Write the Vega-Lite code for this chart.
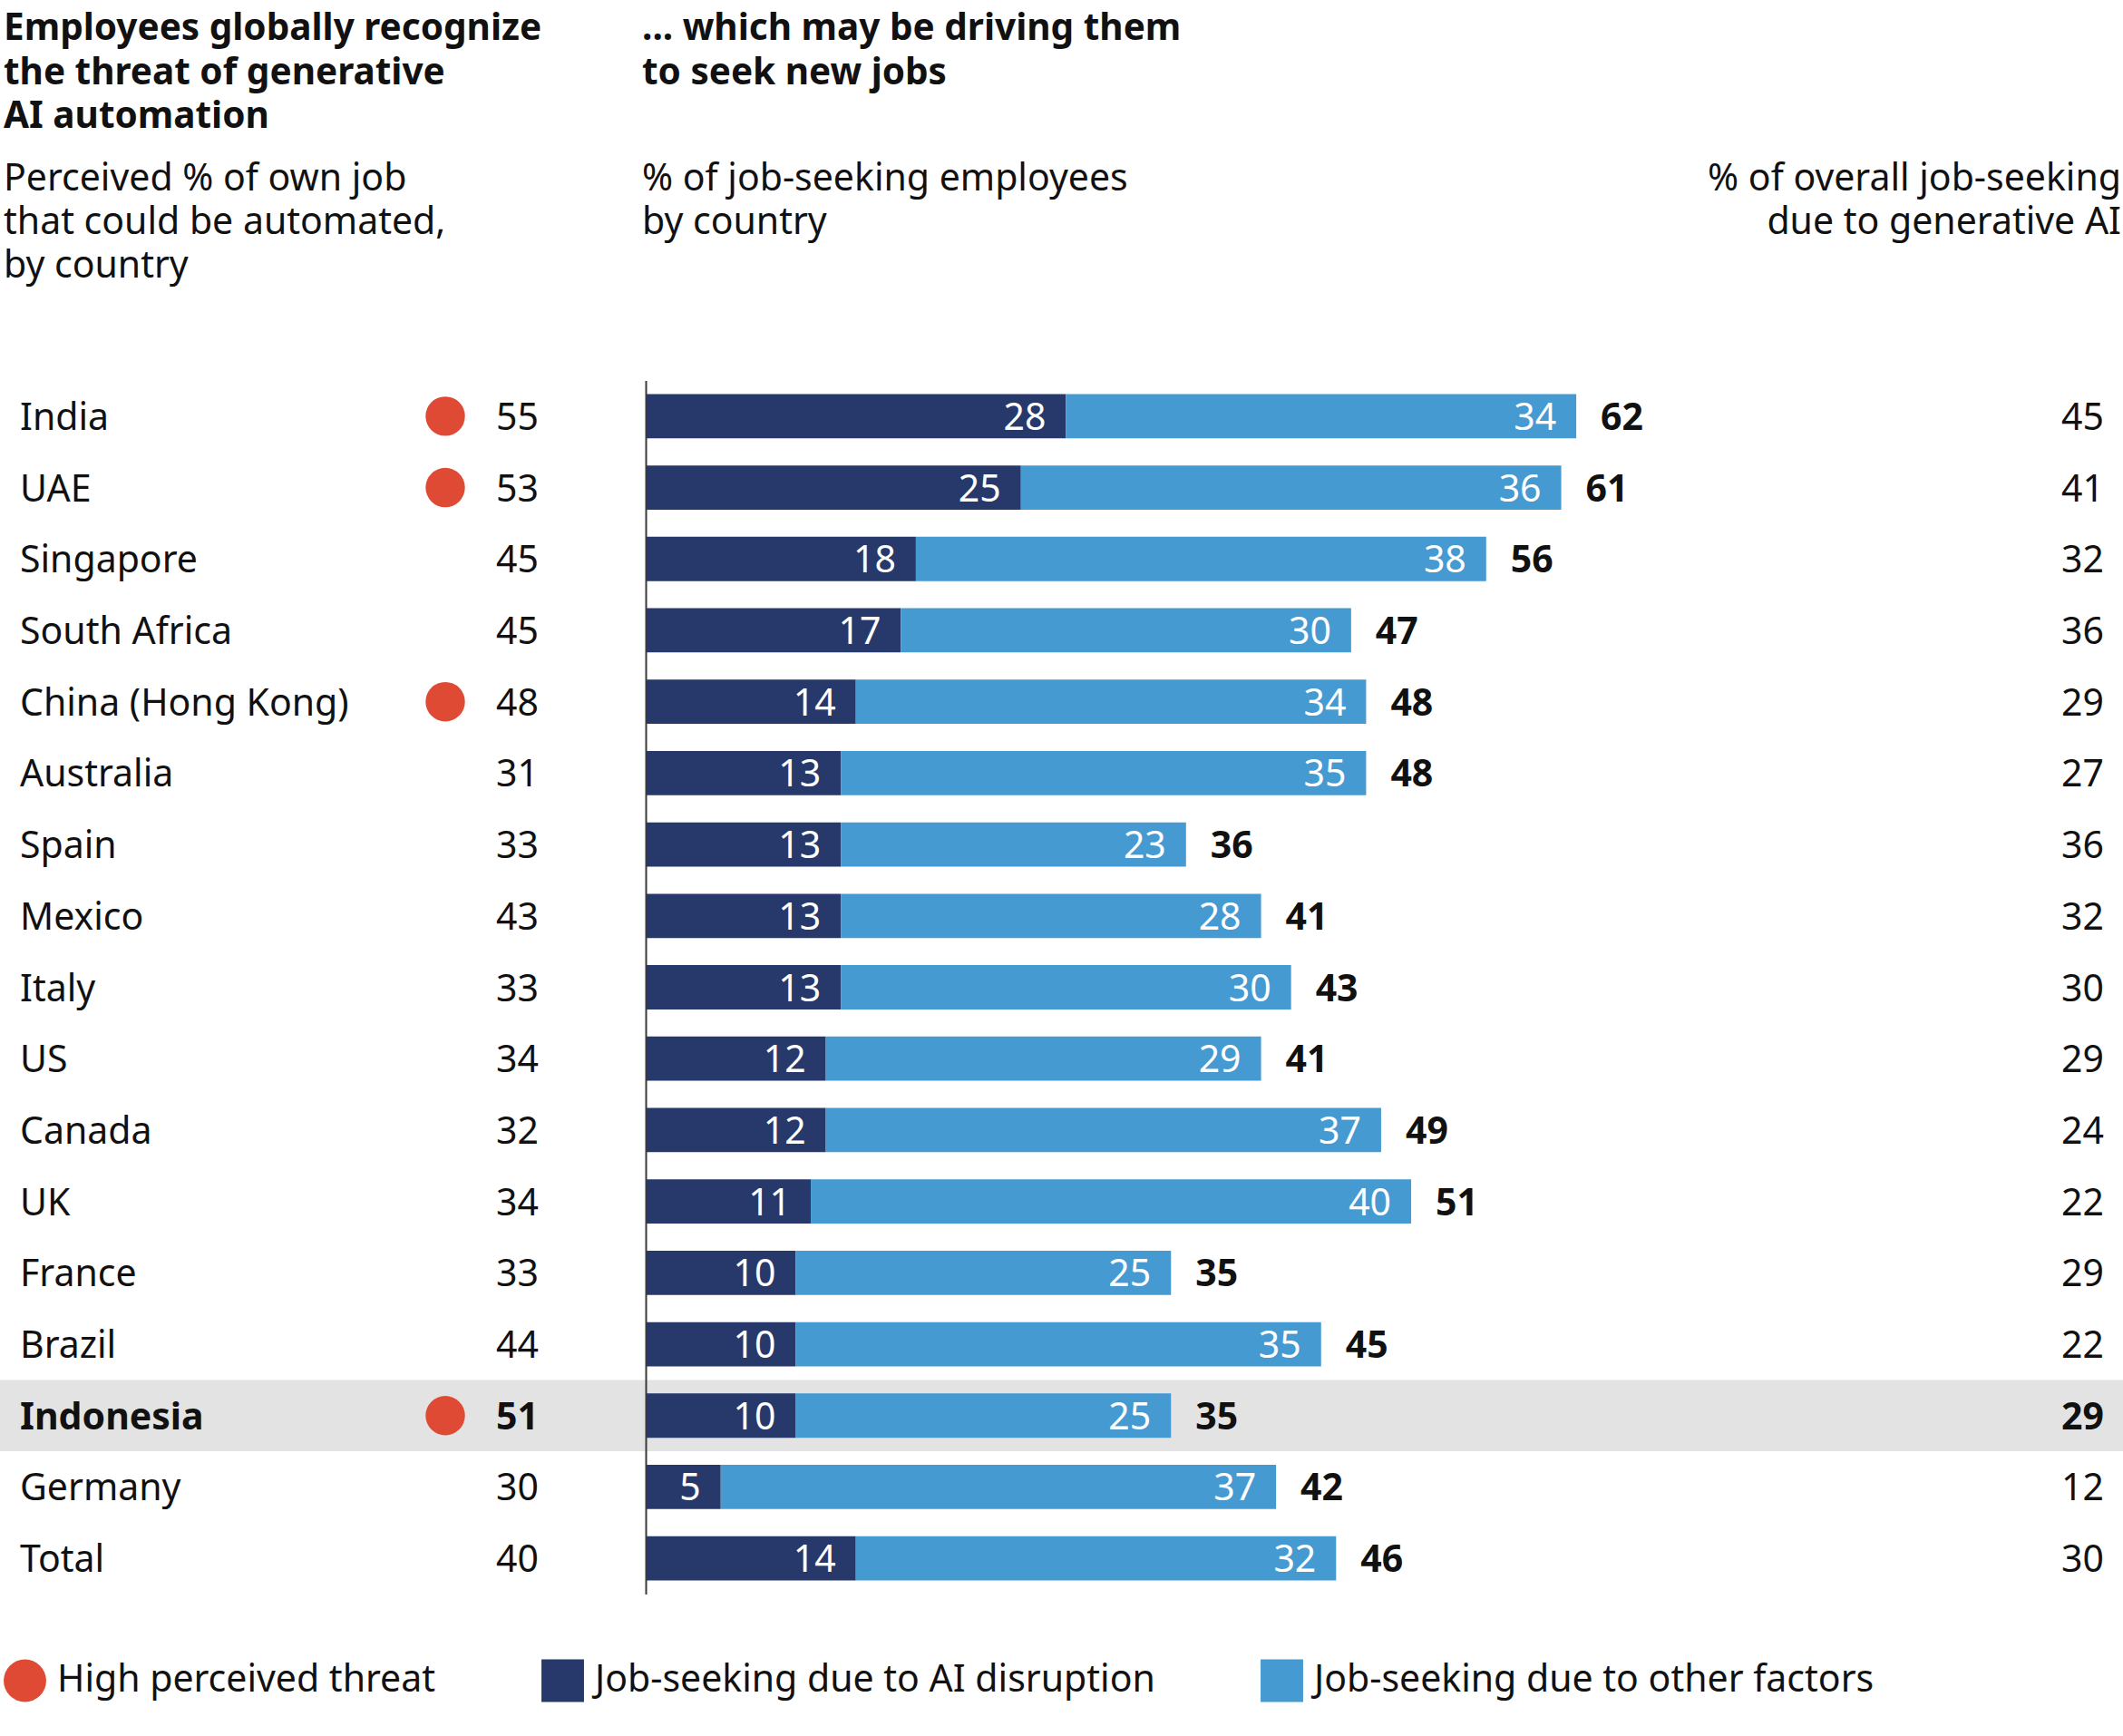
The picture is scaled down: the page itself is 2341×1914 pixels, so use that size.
{
  "$schema": "https://vega.github.io/schema/vega-lite/v6.json",
  "padding": {"left": 0, "top": 11.5, "right": 0, "bottom": 0},
  "background": "white",
  "bounds": "flush",
  "spacing": 0,
  "resolve": {"scale": {"color": "shared"}, "legend": {"color": "shared"}},
  "config": {
    "view": {"stroke": null},
    "font": "Noto Sans",
    "text": {"font": "Noto Sans", "fontSize": 41, "color": "#111111", "baseline": "middle", "dy": 3},
    "title": {
      "font": "Noto Sans", "fontSize": 40.5, "fontWeight": "bold", "color": "#111111", "lineHeight": 48.5,
      "subtitleFont": "Noto Sans", "subtitleFontSize": 41, "subtitleFontWeight": "normal", "subtitleColor": "#111111",
      "subtitleLineHeight": 48, "subtitlePadding": 28.5, "offset": 105.5, "anchor": "start", "frame": "group"
    }
  },
  "datasets": {
    "rows": [
      {"country": "India", "threat": 55, "high": true, "ai": 28, "other": 34, "total": 62, "overall": 45},
      {"country": "UAE", "threat": 53, "high": true, "ai": 25, "other": 36, "total": 61, "overall": 41},
      {"country": "Singapore", "threat": 45, "high": false, "ai": 18, "other": 38, "total": 56, "overall": 32},
      {"country": "South Africa", "threat": 45, "high": false, "ai": 17, "other": 30, "total": 47, "overall": 36},
      {"country": "China (Hong Kong)", "threat": 48, "high": true, "ai": 14, "other": 34, "total": 48, "overall": 29},
      {"country": "Australia", "threat": 31, "high": false, "ai": 13, "other": 35, "total": 48, "overall": 27},
      {"country": "Spain", "threat": 33, "high": false, "ai": 13, "other": 23, "total": 36, "overall": 36},
      {"country": "Mexico", "threat": 43, "high": false, "ai": 13, "other": 28, "total": 41, "overall": 32},
      {"country": "Italy", "threat": 33, "high": false, "ai": 13, "other": 30, "total": 43, "overall": 30},
      {"country": "US", "threat": 34, "high": false, "ai": 12, "other": 29, "total": 41, "overall": 29},
      {"country": "Canada", "threat": 32, "high": false, "ai": 12, "other": 37, "total": 49, "overall": 24},
      {"country": "UK", "threat": 34, "high": false, "ai": 11, "other": 40, "total": 51, "overall": 22},
      {"country": "France", "threat": 33, "high": false, "ai": 10, "other": 25, "total": 35, "overall": 29},
      {"country": "Brazil", "threat": 44, "high": false, "ai": 10, "other": 35, "total": 45, "overall": 22},
      {"country": "Indonesia", "threat": 51, "high": true, "ai": 10, "other": 25, "total": 35, "overall": 29},
      {"country": "Germany", "threat": 30, "high": false, "ai": 5, "other": 37, "total": 42, "overall": 12},
      {"country": "Total", "threat": 40, "high": false, "ai": 14, "other": 32, "total": 46, "overall": 30}
    ]
  },
  "hconcat": [
    {
      "width": 467, "height": 1338,
      "data": {"name": "rows"},
      "title": {
        "text": ["Employees globally recognize", "the threat of generative", "AI automation"],
        "subtitle": ["Perceived % of own job", "that could be automated,", "by country"],
        "dx": 4
      },
      "encoding": {
        "y": {"field": "country", "type": "nominal", "sort": null, "axis": null,
          "scale": {"paddingInner": 0, "paddingOuter": 0, "domain": ["India", "UAE", "Singapore", "South Africa", "China (Hong Kong)", "Australia", "Spain", "Mexico", "Italy", "US", "Canada", "UK", "France", "Brazil", "Indonesia", "Germany", "Total"]}}
      },
      "layer": [
        {"transform": [{"filter": "datum.country === 'Indonesia'"}], "mark": {"type": "rect", "color": "#E3E3E3"}},
        {"transform": [{"filter": "datum.country !== 'Indonesia'"}], "mark": {"type": "text", "align": "left", "x": 0, "dx": 22}, "encoding": {"text": {"field": "country"}}},
        {"transform": [{"filter": "datum.country === 'Indonesia'"}], "mark": {"type": "text", "align": "left", "x": 0, "dx": 22, "fontWeight": "bold"}, "encoding": {"text": {"field": "country"}}}
      ]
    },
    {
      "width": 48, "height": 1338,
      "data": {"name": "rows"},
      "encoding": {
        "y": {"field": "country", "type": "nominal", "sort": null, "axis": null,
          "scale": {"paddingInner": 0, "paddingOuter": 0, "domain": ["India", "UAE", "Singapore", "South Africa", "China (Hong Kong)", "Australia", "Spain", "Mexico", "Italy", "US", "Canada", "UK", "France", "Brazil", "Indonesia", "Germany", "Total"]}}
      },
      "layer": [
        {"transform": [{"filter": "datum.country === 'Indonesia'"}], "mark": {"type": "rect", "color": "#E3E3E3"}},
        {"transform": [{"filter": "datum.high"}], "mark": {"type": "point", "filled": true, "size": 1886, "opacity": 1, "strokeWidth": 0},
          "encoding": {"color": {"datum": "High perceived threat", "type": "nominal"}}}
      ]
    },
    {
      "width": 197, "height": 1338,
      "data": {"name": "rows"},
      "encoding": {
        "y": {"field": "country", "type": "nominal", "sort": null, "axis": null,
          "scale": {"paddingInner": 0, "paddingOuter": 0, "domain": ["India", "UAE", "Singapore", "South Africa", "China (Hong Kong)", "Australia", "Spain", "Mexico", "Italy", "US", "Canada", "UK", "France", "Brazil", "Indonesia", "Germany", "Total"]}}
      },
      "layer": [
        {"transform": [{"filter": "datum.country === 'Indonesia'"}], "mark": {"type": "rect", "color": "#E3E3E3"}},
        {"transform": [{"filter": "datum.country !== 'Indonesia'"}], "mark": {"type": "text", "align": "right", "x": "width", "dx": -118}, "encoding": {"text": {"field": "threat"}}},
        {"transform": [{"filter": "datum.country === 'Indonesia'"}], "mark": {"type": "text", "align": "right", "x": "width", "dx": -118, "fontWeight": "bold"}, "encoding": {"text": {"field": "threat"}}}
      ]
    },
    {
      "width": 1300, "height": 1338,
      "data": {"name": "rows"},
      "title": {
        "text": ["... which may be driving them", "to seek new jobs", " "],
        "subtitle": ["% of job-seeking employees", "by country", " "],
        "dx": -4
      },
      "encoding": {
        "y": {"field": "country", "type": "nominal", "sort": null,
          "axis": {"domain": true, "domainColor": "#3a3a3a", "domainWidth": 2, "labels": false, "ticks": false, "title": null, "grid": false, "zindex": 1},
          "scale": {"paddingInner": 0, "paddingOuter": 0, "domain": ["India", "UAE", "Singapore", "South Africa", "China (Hong Kong)", "Australia", "Spain", "Mexico", "Italy", "US", "Canada", "UK", "France", "Brazil", "Indonesia", "Germany", "Total"]}}
      },
      "layer": [
        {"transform": [{"filter": "datum.country === 'Indonesia'"}], "mark": {"type": "rect", "color": "#E3E3E3"}},
        {
          "mark": {"type": "bar", "height": {"band": 0.62}},
          "encoding": {
            "x": {"field": "ai", "type": "quantitative", "scale": {"domain": [0, 78.55], "nice": false}, "axis": null},
            "color": {
              "datum": "Job-seeking due to AI disruption", "type": "nominal",
              "scale": {"domain": ["High perceived threat", "Job-seeking due to AI disruption", "Job-seeking due to other factors"], "range": ["#DF4A35", "#27386B", "#469AD2"]},
              "legend": {
                "title": null, "orient": "none", "legendX": 4, "legendY": 1410, "direction": "horizontal",
                "symbolSize": 2200, "labelFontSize": 41, "labelFont": "Noto Sans", "labelColor": "#111111",
                "labelLimit": 1000, "labelOffset": 12, "columnPadding": 116, "symbolStrokeWidth": 0,
                "encode": {"symbols": {"update": {
                  "shape": {"signal": "datum.value === 'High perceived threat' ? 'circle' : 'square'"},
                  "fill": {"scale": "color", "field": "value"},
                  "opacity": {"value": 1}
                }}}
              }
            }
          }
        },
        {
          "mark": {"type": "bar", "height": {"band": 0.62}},
          "encoding": {
            "x": {"field": "ai", "type": "quantitative"},
            "x2": {"field": "total"},
            "color": {"datum": "Job-seeking due to other factors", "type": "nominal"}
          }
        },
        {
          "mark": {"type": "text", "align": "right", "dx": -22, "color": "white"},
          "encoding": {"x": {"field": "ai", "type": "quantitative"}, "text": {"field": "ai"}}
        },
        {
          "mark": {"type": "text", "align": "right", "dx": -22, "color": "white"},
          "encoding": {"x": {"field": "total", "type": "quantitative"}, "text": {"field": "other"}}
        },
        {
          "mark": {"type": "text", "align": "left", "dx": 27, "fontWeight": "bold"},
          "encoding": {"x": {"field": "total", "type": "quantitative"}, "text": {"field": "total"}}
        }
      ]
    },
    {
      "width": 329, "height": 1338,
      "data": {"name": "rows"},
      "title": {
        "text": [" ", " ", " "],
        "subtitle": ["% of overall job-seeking", "due to generative AI", " "],
        "anchor": "end",
        "dx": -2
      },
      "encoding": {
        "y": {"field": "country", "type": "nominal", "sort": null, "axis": null,
          "scale": {"paddingInner": 0, "paddingOuter": 0, "domain": ["India", "UAE", "Singapore", "South Africa", "China (Hong Kong)", "Australia", "Spain", "Mexico", "Italy", "US", "Canada", "UK", "France", "Brazil", "Indonesia", "Germany", "Total"]}}
      },
      "layer": [
        {"transform": [{"filter": "datum.country === 'Indonesia'"}], "mark": {"type": "rect", "color": "#E3E3E3"}},
        {"transform": [{"filter": "datum.country !== 'Indonesia'"}], "mark": {"type": "text", "align": "right", "x": "width", "dx": -21}, "encoding": {"text": {"field": "overall"}}},
        {"transform": [{"filter": "datum.country === 'Indonesia'"}], "mark": {"type": "text", "align": "right", "x": "width", "dx": -21, "fontWeight": "bold"}, "encoding": {"text": {"field": "overall"}}}
      ]
    }
  ]
}
